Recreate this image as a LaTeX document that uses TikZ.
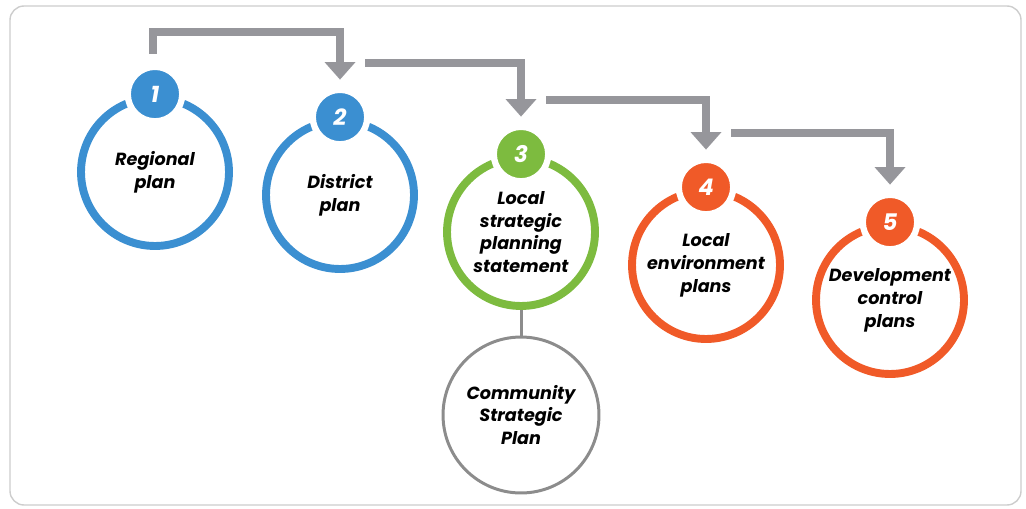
\documentclass[tikz,border=0pt]{standalone}
\usepackage{fontspec}
\setmainfont{Poppins}
\usetikzlibrary{arrows.meta,calc}

\definecolor{stepblue}{RGB}{59,143,209}
\definecolor{stepgreen}{RGB}{125,187,63}
\definecolor{steporange}{RGB}{240,90,40}
\definecolor{arrowgray}{RGB}{150,150,155}
\definecolor{ringgray}{RGB}{140,140,140}
\definecolor{framegray}{RGB}{205,205,205}

\tikzset{
	ring/.style={circle, draw=#1, line width=4.5pt, minimum size=2.96cm, inner sep=0pt,
		align=center, font=\bfseries\itshape\fontsize{10}{13}\selectfont},
	badge/.style={circle, fill=#1, draw=white, line width=3.6pt, minimum size=1.09cm, inner sep=0pt,
		text=white, font=\bfseries\itshape\fontsize{13}{15}\selectfont},
	flow/.style={arrowgray, line width=4.5pt, -{Triangle[width=17pt,length=10pt]}}
}

\begin{document}
\begin{tikzpicture}[x=0.02cm, y=0.02cm]
		\useasboundingbox (0, 0) rectangle (1026, 508);
		\draw [framegray, line width=0.8pt, rounded corners=8] (10, 3) rectangle (1021, 502);

		\foreach \i/\x/\y/\col/\txt in {1/155/336/stepblue/{Regional\\plan},
				2/340/313/stepblue/{District\\plan},
				3/521/276/stepgreen/{Local\\strategic\\planning\\statement},
				4/706/243/steporange/{Local\\environment\\plans},
				5/890/208/steporange/{Development\\control\\plans}} {
			\node [ring=\col] (c\i) at (\x, \y) {\txt};
			\node [badge=\col] (b\i) at (c\i.north) {\i};
		}

		\node [circle, draw=ringgray, line width=1.7pt, minimum size=3.12cm, inner sep=0pt,
			align=center, font=\bfseries\itshape\fontsize{10}{13}\selectfont] (csp) at (521, 93)
			{Community\\Strategic\\Plan};
		\draw [ringgray, line width=1.7pt] (c3.south) -- (csp.north);

		\draw [flow] ($(b1.north) + (-2, 10)$) -- ++(0, 22) -| ($(b2.north) + (0, 7)$);
		\foreach \i/\j in {2/3, 3/4, 4/5} {
			\draw [flow] ($(b\i.north) + (25, 24)$) -| ($(b\j.north) + (0, 7)$);
		}
	\end{tikzpicture}
\end{document}
